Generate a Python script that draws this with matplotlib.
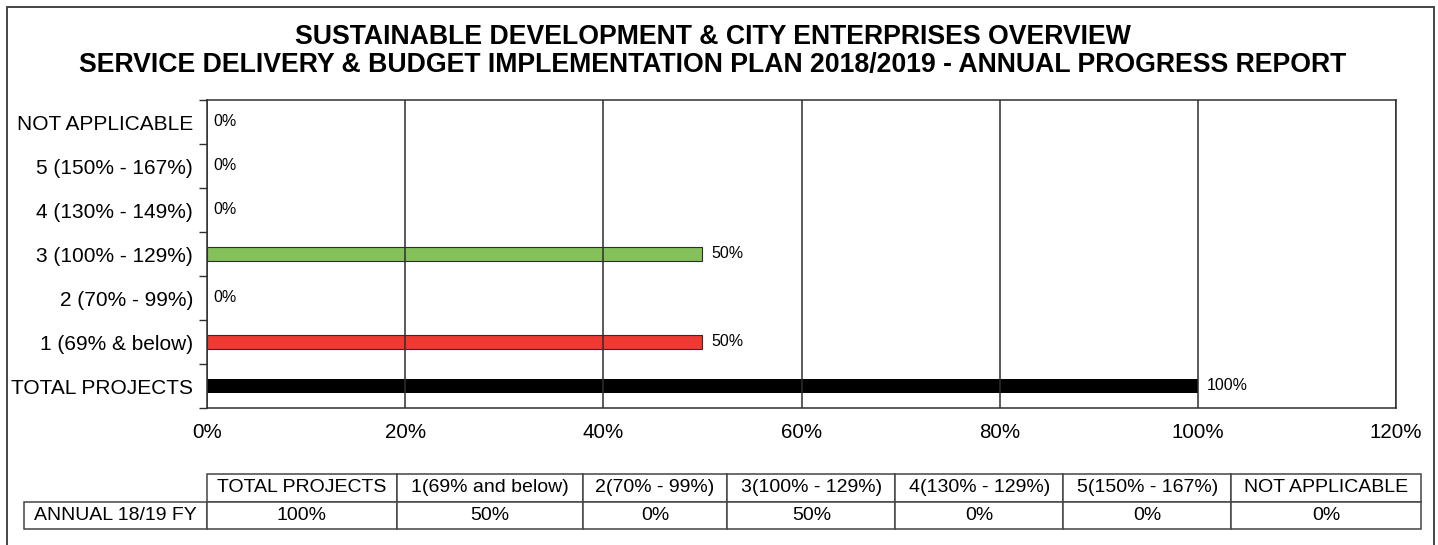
import matplotlib
matplotlib.use("Agg")
import matplotlib.pyplot as plt
from matplotlib.patches import Rectangle
from matplotlib.ticker import FixedLocator

plt.rcParams["font.family"] = ["Liberation Sans", "DejaVu Sans"]

# Performance bands, bottom to top on the chart
categories = [
    "TOTAL PROJECTS",
    "1 (69% & below)",
    "2 (70% - 99%)",
    "3 (100% - 129%)",
    "4 (130% - 149%)",
    "5 (150% - 167%)",
    "NOT APPLICABLE",
]
values = [100, 50, 0, 50, 0, 0, 0]
bar_colors = ["#000000", "#ee3a33", "#f5c242", "#84c15b", "#4f81bd", "#2e75b6", "#a6a6a6"]

x_ticks = [0, 20, 40, 60, 80, 100, 120]

table_headers = [
    "TOTAL PROJECTS",
    "1(69% and below)",
    "2(70% - 99%)",
    "3(100% - 129%)",
    "4(130% - 129%)",
    "5(150% - 167%)",
    "NOT APPLICABLE",
]
table_row_label = "ANNUAL 18/19 FY"

title_lines = [
    "SUSTAINABLE DEVELOPMENT & CITY ENTERPRISES OVERVIEW",
    "SERVICE DELIVERY & BUDGET IMPLEMENTATION PLAN 2018/2019 - ANNUAL PROGRESS REPORT",
]

W, H = 1438, 545
fig = plt.figure(figsize=(W / 100, H / 100), dpi=100)
fig.patch.set_facecolor("white")

line_col = "#2e2e2e"

# Outer frame around the whole report (open at the bottom edge)
fig.add_artist(Rectangle((7 / W, -0.1), (1434 - 7) / W, (H - 7) / H + 0.1,
                         transform=fig.transFigure, fill=False,
                         edgecolor="#444444", linewidth=1.4, clip_on=False))

# Title
fig.text(713 / W, 1 - 37 / H, title_lines[0], ha="center", va="center",
         fontsize=19.2, fontweight="bold")
fig.text(713 / W, 1 - 65 / H, title_lines[1], ha="center", va="center",
         fontsize=19.2, fontweight="bold")

# Bar chart
ax = fig.add_axes([207 / W, 1 - 408 / H, (1396 - 207) / W, (408 - 100) / H])
ypos = list(range(len(categories)))
lws = [0.8 if (v > 0 and c != "#000000") else 0 for v, c in zip(values, bar_colors)]
ax.barh(ypos, values, height=0.31, color=bar_colors, edgecolor=line_col,
        linewidth=lws, zorder=1)

for y, v in zip(ypos, values):
    ax.annotate(f"{v}%", xy=(v, y), xytext=(4.5 if v == 0 else 6.5, 0),
                textcoords="offset points", va="center", ha="left", fontsize=11.5)

ax.set_xlim(0, 120)
ax.set_ylim(-0.5, len(categories) - 0.5)
ax.set_xticks(x_ticks)
ax.set_xticklabels([f"{t}%" for t in x_ticks], fontsize=14.8)
ax.set_yticks(ypos)
ax.set_yticklabels(categories, fontsize=15)
ax.yaxis.set_minor_locator(FixedLocator([y - 0.5 for y in range(len(categories) + 1)]))
ax.tick_params(axis="y", which="major", length=0, pad=10)
ax.tick_params(axis="y", which="minor", length=6, width=1.0, color=line_col, direction="out")
ax.tick_params(axis="x", which="major", length=0, pad=11)

ax.xaxis.grid(True, color=line_col, linewidth=1.1, zorder=2)
ax.set_axisbelow(False)
for s in ax.spines.values():
    s.set_color(line_col)
    s.set_linewidth(1.1)

# Summary table below the chart
tax = fig.add_axes([24 / W, 1 - 529 / H, (1421 - 24) / W, (529 - 474) / H])
tax.axis("off")
col_widths = [183, 190, 186, 145, 168, 168, 168, 190]
total_w = sum(col_widths)
cell_text = [[""] + table_headers,
             [table_row_label] + [f"{v}%" for v in values]]
tbl = tax.table(cellText=cell_text, colWidths=[w / total_w for w in col_widths],
                cellLoc="center", bbox=[0, 0, 1, 1])
tbl.auto_set_font_size(False)
tbl.set_fontsize(14)
for (r, c), cell in tbl.get_celld().items():
    cell.set_edgecolor("#444444")
    cell.set_linewidth(1.1)
tbl[0, 0].visible_edges = "open"

fig.savefig("out.png", dpi=100, facecolor="white")
